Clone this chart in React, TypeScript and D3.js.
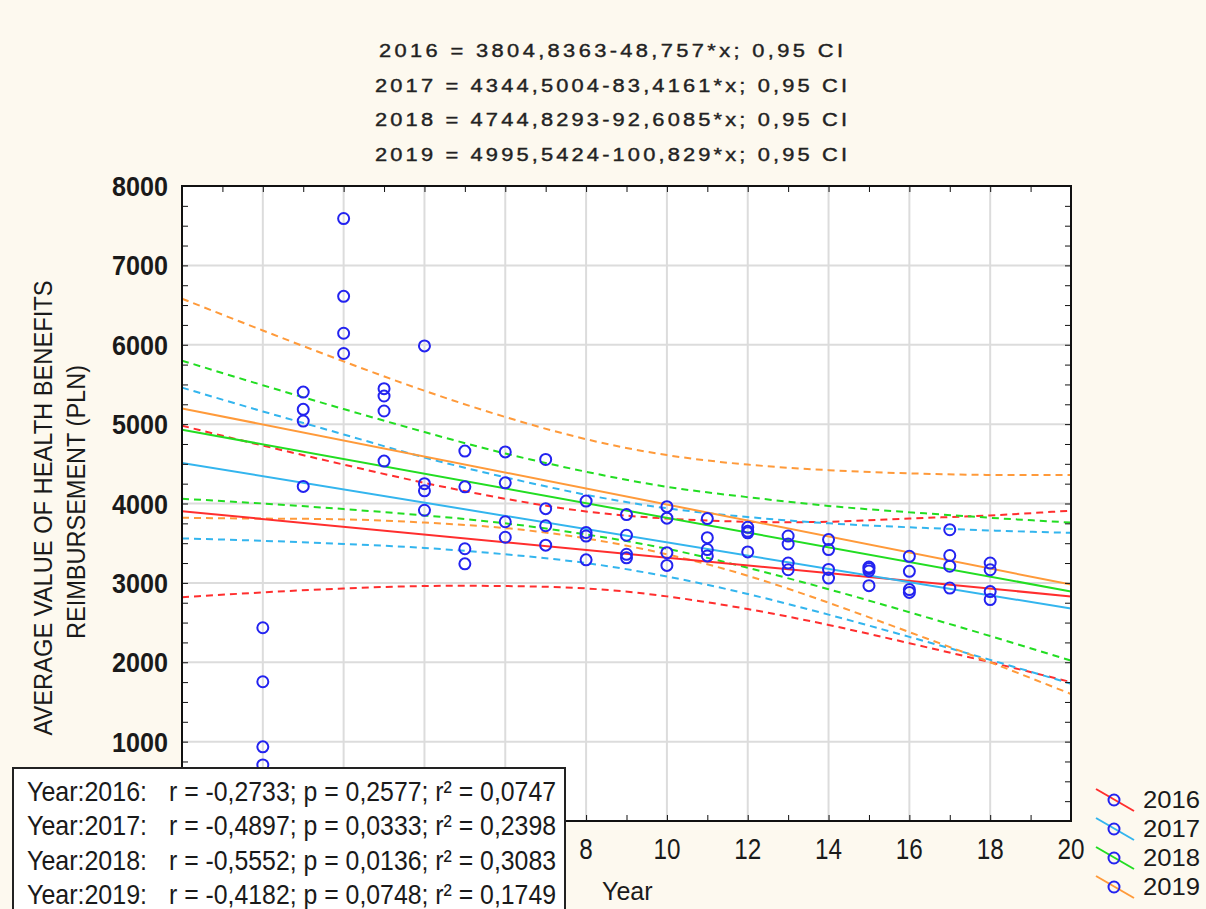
import React, { Component } from 'react';
import * as d3 from 'd3';

// regression per year (from the chart header)
const years = ['2016', '2017', '2018', '2019'];
const lineColors = ['#ff2e2e', '#33b5ee', '#22dd22', '#ff9a3a'];
const intercepts = [3804.8363, 4344.5004, 4744.8293, 4995.5424];
const slopes = [-48.757, -83.4161, -92.6085, -100.829];
const equations = [
    '2016 = 3804,8363-48,757*x; 0,95 CI',
    '2017 = 4344,5004-83,4161*x; 0,95 CI',
    '2018 = 4744,8293-92,6085*x; 0,95 CI',
    '2019 = 4995,5424-100,829*x; 0,95 CI'
];
const rValues = ['-0,2733', '-0,4897', '-0,5552', '-0,4182'];
const pValues = ['0,2577', '0,0333', '0,0136', '0,0748'];
const r2Values = ['0,0747', '0,2398', '0,3083', '0,1749'];

// 0,95 confidence bands
const ciX = [-2, 0, 2, 4, 6, 8, 10, 12, 14, 16, 18, 20];
const upper2016 = [4980, 4730, 4490, 4260, 4060, 3900, 3810, 3770, 3770, 3810, 3850, 3910];
const lower2016 = [2820, 2880, 2930, 2960, 2960, 2930, 2830, 2670, 2470, 2240, 2000, 1750];
const upper2017 = [5460, 5160, 4870, 4580, 4330, 4110, 3940, 3830, 3750, 3700, 3660, 3630];
const lower2017 = [3560, 3530, 3490, 3440, 3360, 3250, 3080, 2860, 2600, 2320, 2030, 1730];
const upper2018 = [5800, 5490, 5190, 4900, 4630, 4400, 4210, 4080, 3970, 3890, 3820, 3760];
const lower2018 = [4060, 4000, 3930, 3850, 3750, 3610, 3430, 3190, 2920, 2630, 2330, 2020];
const upper2019 = [6580, 6180, 5790, 5420, 5090, 4810, 4610, 4490, 4420, 4380, 4360, 4360];
const lower2019 = [3820, 3810, 3800, 3760, 3690, 3560, 3360, 3090, 2750, 2380, 2000, 1600];
const bandUpper = [upper2016, upper2017, upper2018, upper2019];
const bandLower = [lower2016, lower2017, lower2018, lower2019];

// observed values (4 per x)
const pointX = [0, 1, 2, 3, 4, 5, 6, 7, 8, 9, 10, 11, 12, 13, 14, 15, 16, 17, 18];
const pointValues = [
    [2435, 1754, 934, 707],
    [5404, 5186, 5039, 4215],
    [7590, 6610, 6145, 5890],
    [5447, 5354, 5165, 4534],
    [5985, 4250, 4160, 3915],
    [4660, 4210, 3430, 3240],
    [4650, 4260, 3770, 3575],
    [4555, 3935, 3720, 3475],
    [4030, 3635, 3590, 3290],
    [3860, 3600, 3360, 3315],
    [3960, 3815, 3380, 3220],
    [3810, 3570, 3420, 3340],
    [3700, 3650, 3630, 3390],
    [3590, 3490, 3250, 3165],
    [3545, 3420, 3170, 3060],
    [3200, 3180, 3150, 2965],
    [3335, 3145, 2915, 2880],
    [3670, 3345, 3210, 2935],
    [3250, 3165, 2890, 2790]
];

const yTicks = [1000, 2000, 3000, 4000, 5000, 6000, 7000, 8000];
const xTicks = [-2, 0, 2, 4, 6, 8, 10, 12, 14, 16, 18, 20];
const titleWidths = [464, 472, 472, 472];

const W = 1206;
const H = 909;
const narrow = "'Liberation Sans Narrow', 'Arial Narrow', 'Liberation Sans', Arial, sans-serif";
const sans = "'Liberation Sans', Arial, sans-serif";

class App extends Component {
    svgRef = React.createRef<SVGSVGElement>();

    componentDidMount() {
        this.drawChart();
    }

    drawChart() {
        document.body.style.margin = '0';
        const svg = d3.select(this.svgRef.current);
        svg.selectAll('*').remove();

        const left = 182, right = 1071, top = 186, bottom = 821;
        const boxRight = 565;
        const x = d3.scaleLinear().domain([-2, 20]).range([left, right]);
        const y = d3.scaleLinear().domain([0, 8000]).range([bottom, top]);

        svg.append('rect').attr('width', W).attr('height', H).attr('fill', '#fdf9ef');
        svg.append('rect')
            .attr('x', left).attr('y', top)
            .attr('width', right - left).attr('height', bottom - top)
            .attr('fill', '#ffffff');

        // header equations (wide, spaced-out glyphs)
        const hx = 1.15;
        svg.selectAll('text.eq')
            .data(equations)
            .enter()
            .append('text')
            .attr('class', 'eq')
            .attr('transform', (d, i) => 'translate(611,' + (57 + i * 34.7) + ') scale(' + hx + ',1)')
            .attr('text-anchor', 'middle')
            .attr('font-family', sans)
            .attr('font-size', 19)
            .attr('fill', '#222')
            .attr('stroke', '#222')
            .attr('stroke-width', 0.4)
            .attr('textLength', (d, i) => titleWidths[i] / hx)
            .attr('lengthAdjust', 'spacing')
            .text(d => d);

        // grid
        svg.append('g')
            .selectAll('line')
            .data(xTicks.filter(d => d > -2 && d < 20))
            .enter()
            .append('line')
            .attr('x1', d => x(d)).attr('x2', d => x(d))
            .attr('y1', top).attr('y2', bottom)
            .attr('stroke', '#dcdcdc').attr('stroke-width', 2);
        svg.append('g')
            .selectAll('line')
            .data(yTicks.filter(d => d < 8000))
            .enter()
            .append('line')
            .attr('x1', left).attr('x2', right)
            .attr('y1', d => y(d)).attr('y2', d => y(d))
            .attr('stroke', '#dcdcdc').attr('stroke-width', 2);

        svg.append('clipPath').attr('id', 'plotclip')
            .append('rect')
            .attr('x', left).attr('y', top)
            .attr('width', right - left).attr('height', bottom - top);

        const plot = svg.append('g').attr('clip-path', 'url(#plotclip)');

        const band = d3.line<number>()
            .x((d, i) => x(ciX[i]))
            .y(d => y(d))
            .curve(d3.curveNatural);

        years.forEach((yr, i) => {
            plot.append('path')
                .attr('d', band(bandUpper[i]))
                .attr('fill', 'none')
                .attr('stroke', lineColors[i])
                .attr('stroke-width', 2)
                .attr('stroke-dasharray', '7,5');
            plot.append('path')
                .attr('d', band(bandLower[i]))
                .attr('fill', 'none')
                .attr('stroke', lineColors[i])
                .attr('stroke-width', 2)
                .attr('stroke-dasharray', '7,5');
        });

        years.forEach((yr, i) => {
            const ends = x.domain();
            plot.append('line')
                .attr('x1', x(ends[0])).attr('y1', y(intercepts[i] + slopes[i] * ends[0]))
                .attr('x2', x(ends[1])).attr('y2', y(intercepts[i] + slopes[i] * ends[1]))
                .attr('stroke', lineColors[i])
                .attr('stroke-width', 2);
        });

        const pts: [number, number][] = [];
        pointX.forEach((px, i) => pointValues[i].forEach(v => pts.push([px, v])));
        plot.selectAll('circle')
            .data(pts)
            .enter()
            .append('circle')
            .attr('cx', d => x(d[0]))
            .attr('cy', d => y(d[1]))
            .attr('r', 5.5)
            .attr('fill', 'none')
            .attr('stroke', '#2323f0')
            .attr('stroke-width', 2);

        // inner ticks on all four sides
        const tickColor = '#111';
        const minorY = d3.range(0, 8001, 250);
        const minorX = d3.range(-2, 21, 1);
        svg.append('g').attr('transform', 'translate(' + left + ',0)')
            .call(d3.axisLeft(y).tickValues(minorY).tickSize(-6).tickFormat(() => ''))
            .call(g => g.select('.domain').remove())
            .attr('color', tickColor);
        svg.append('g').attr('transform', 'translate(' + right + ',0)')
            .call(d3.axisRight(y).tickValues(minorY).tickSize(-6).tickFormat(() => ''))
            .call(g => g.select('.domain').remove())
            .attr('color', tickColor);
        svg.append('g').attr('transform', 'translate(0,' + top + ')')
            .call(d3.axisTop(x).tickValues(minorX).tickSize(-6).tickFormat(() => ''))
            .call(g => g.select('.domain').remove())
            .attr('color', tickColor);
        svg.append('g').attr('transform', 'translate(0,' + bottom + ')')
            .call(d3.axisBottom(x).tickValues(minorX).tickSize(-6).tickFormat(() => ''))
            .call(g => g.select('.domain').remove())
            .attr('color', tickColor);

        svg.append('rect')
            .attr('x', left).attr('y', top)
            .attr('width', right - left).attr('height', bottom - top)
            .attr('fill', 'none')
            .attr('stroke', '#111')
            .attr('stroke-width', 2);

        // tick labels
        svg.selectAll('text.ylab')
            .data(yTicks)
            .enter()
            .append('text')
            .attr('class', 'ylab')
            .attr('x', 168)
            .attr('y', d => y(d) + 10)
            .attr('text-anchor', 'end')
            .attr('font-family', narrow)
            .attr('font-weight', 'bold')
            .attr('font-size', 28)
            .attr('fill', '#1a1a1a')
            .attr('textLength', 56)
            .attr('lengthAdjust', 'spacingAndGlyphs')
            .text(d => d);

        // labels left of 8 sit under the stats box and are not visible
        svg.selectAll('text.xlab')
            .data(xTicks.filter(d => x(d) > boxRight))
            .enter()
            .append('text')
            .attr('class', 'xlab')
            .attr('x', d => x(d))
            .attr('y', 859)
            .attr('text-anchor', 'middle')
            .attr('font-family', narrow)
            .attr('font-size', 29)
            .attr('fill', '#1a1a1a')
            .attr('textLength', d => String(d).length * 13.5)
            .attr('lengthAdjust', 'spacingAndGlyphs')
            .text(d => d);

        svg.append('text')
            .attr('x', 602)
            .attr('y', 900)
            .attr('font-family', sans)
            .attr('font-size', 25)
            .attr('fill', '#1a1a1a')
            .text('Year');

        // y axis title
        svg.append('text')
            .attr('transform', 'translate(52,508) rotate(-90)')
            .attr('text-anchor', 'middle')
            .attr('font-family', sans)
            .attr('font-size', 26)
            .attr('fill', '#1a1a1a')
            .attr('textLength', 455)
            .attr('lengthAdjust', 'spacingAndGlyphs')
            .text('AVERAGE VALUE OF HEALTH BENEFITS');
        svg.append('text')
            .attr('transform', 'translate(85,502) rotate(-90)')
            .attr('text-anchor', 'middle')
            .attr('font-family', sans)
            .attr('font-size', 26)
            .attr('fill', '#1a1a1a')
            .attr('textLength', 274)
            .attr('lengthAdjust', 'spacingAndGlyphs')
            .text('REIMBURSEMENT (PLN)');

        // stats box
        svg.append('rect')
            .attr('x', 13).attr('y', 768)
            .attr('width', boxRight - 13).attr('height', 160)
            .attr('fill', '#ffffff')
            .attr('stroke', '#222')
            .attr('stroke-width', 2);

        years.forEach((yr, i) => {
            const by = 801 + i * 34.3;
            svg.append('text')
                .attr('transform', 'translate(27,' + by + ') scale(1,1.14)')
                .attr('font-family', sans)
                .attr('font-size', 25)
                .attr('fill', '#1a1a1a')
                .attr('textLength', 120)
                .attr('lengthAdjust', 'spacingAndGlyphs')
                .text('Year:' + yr + ':');
            svg.append('text')
                .attr('transform', 'translate(169,' + by + ') scale(1,1.14)')
                .attr('font-family', sans)
                .attr('font-size', 25)
                .attr('fill', '#1a1a1a')
                .attr('textLength', 387)
                .attr('lengthAdjust', 'spacingAndGlyphs')
                .text('r = ' + rValues[i] + '; p = ' + pValues[i] + '; r\u00b2 = ' + r2Values[i]);
        });

        // legend
        years.forEach((yr, i) => {
            const cy = 800 + i * 29;
            const g = svg.append('g');
            g.append('line')
                .attr('x1', 1096).attr('y1', cy - 11)
                .attr('x2', 1134).attr('y2', cy + 11)
                .attr('stroke', lineColors[i])
                .attr('stroke-width', 2);
            g.append('circle')
                .attr('cx', 1114).attr('cy', cy)
                .attr('r', 5.5)
                .attr('fill', 'none')
                .attr('stroke', '#2323f0')
                .attr('stroke-width', 2);
            g.append('text')
                .attr('x', 1143).attr('y', cy + 8)
                .attr('font-family', sans)
                .attr('font-size', 23)
                .attr('fill', '#1a1a1a')
                .attr('textLength', 57)
                .attr('lengthAdjust', 'spacingAndGlyphs')
                .text(yr);
        });
    }

    render() {
        return (
            <svg ref={this.svgRef} width={W} height={H} style={{ display: 'block' }}></svg>
        );
    }
}

export default App;
